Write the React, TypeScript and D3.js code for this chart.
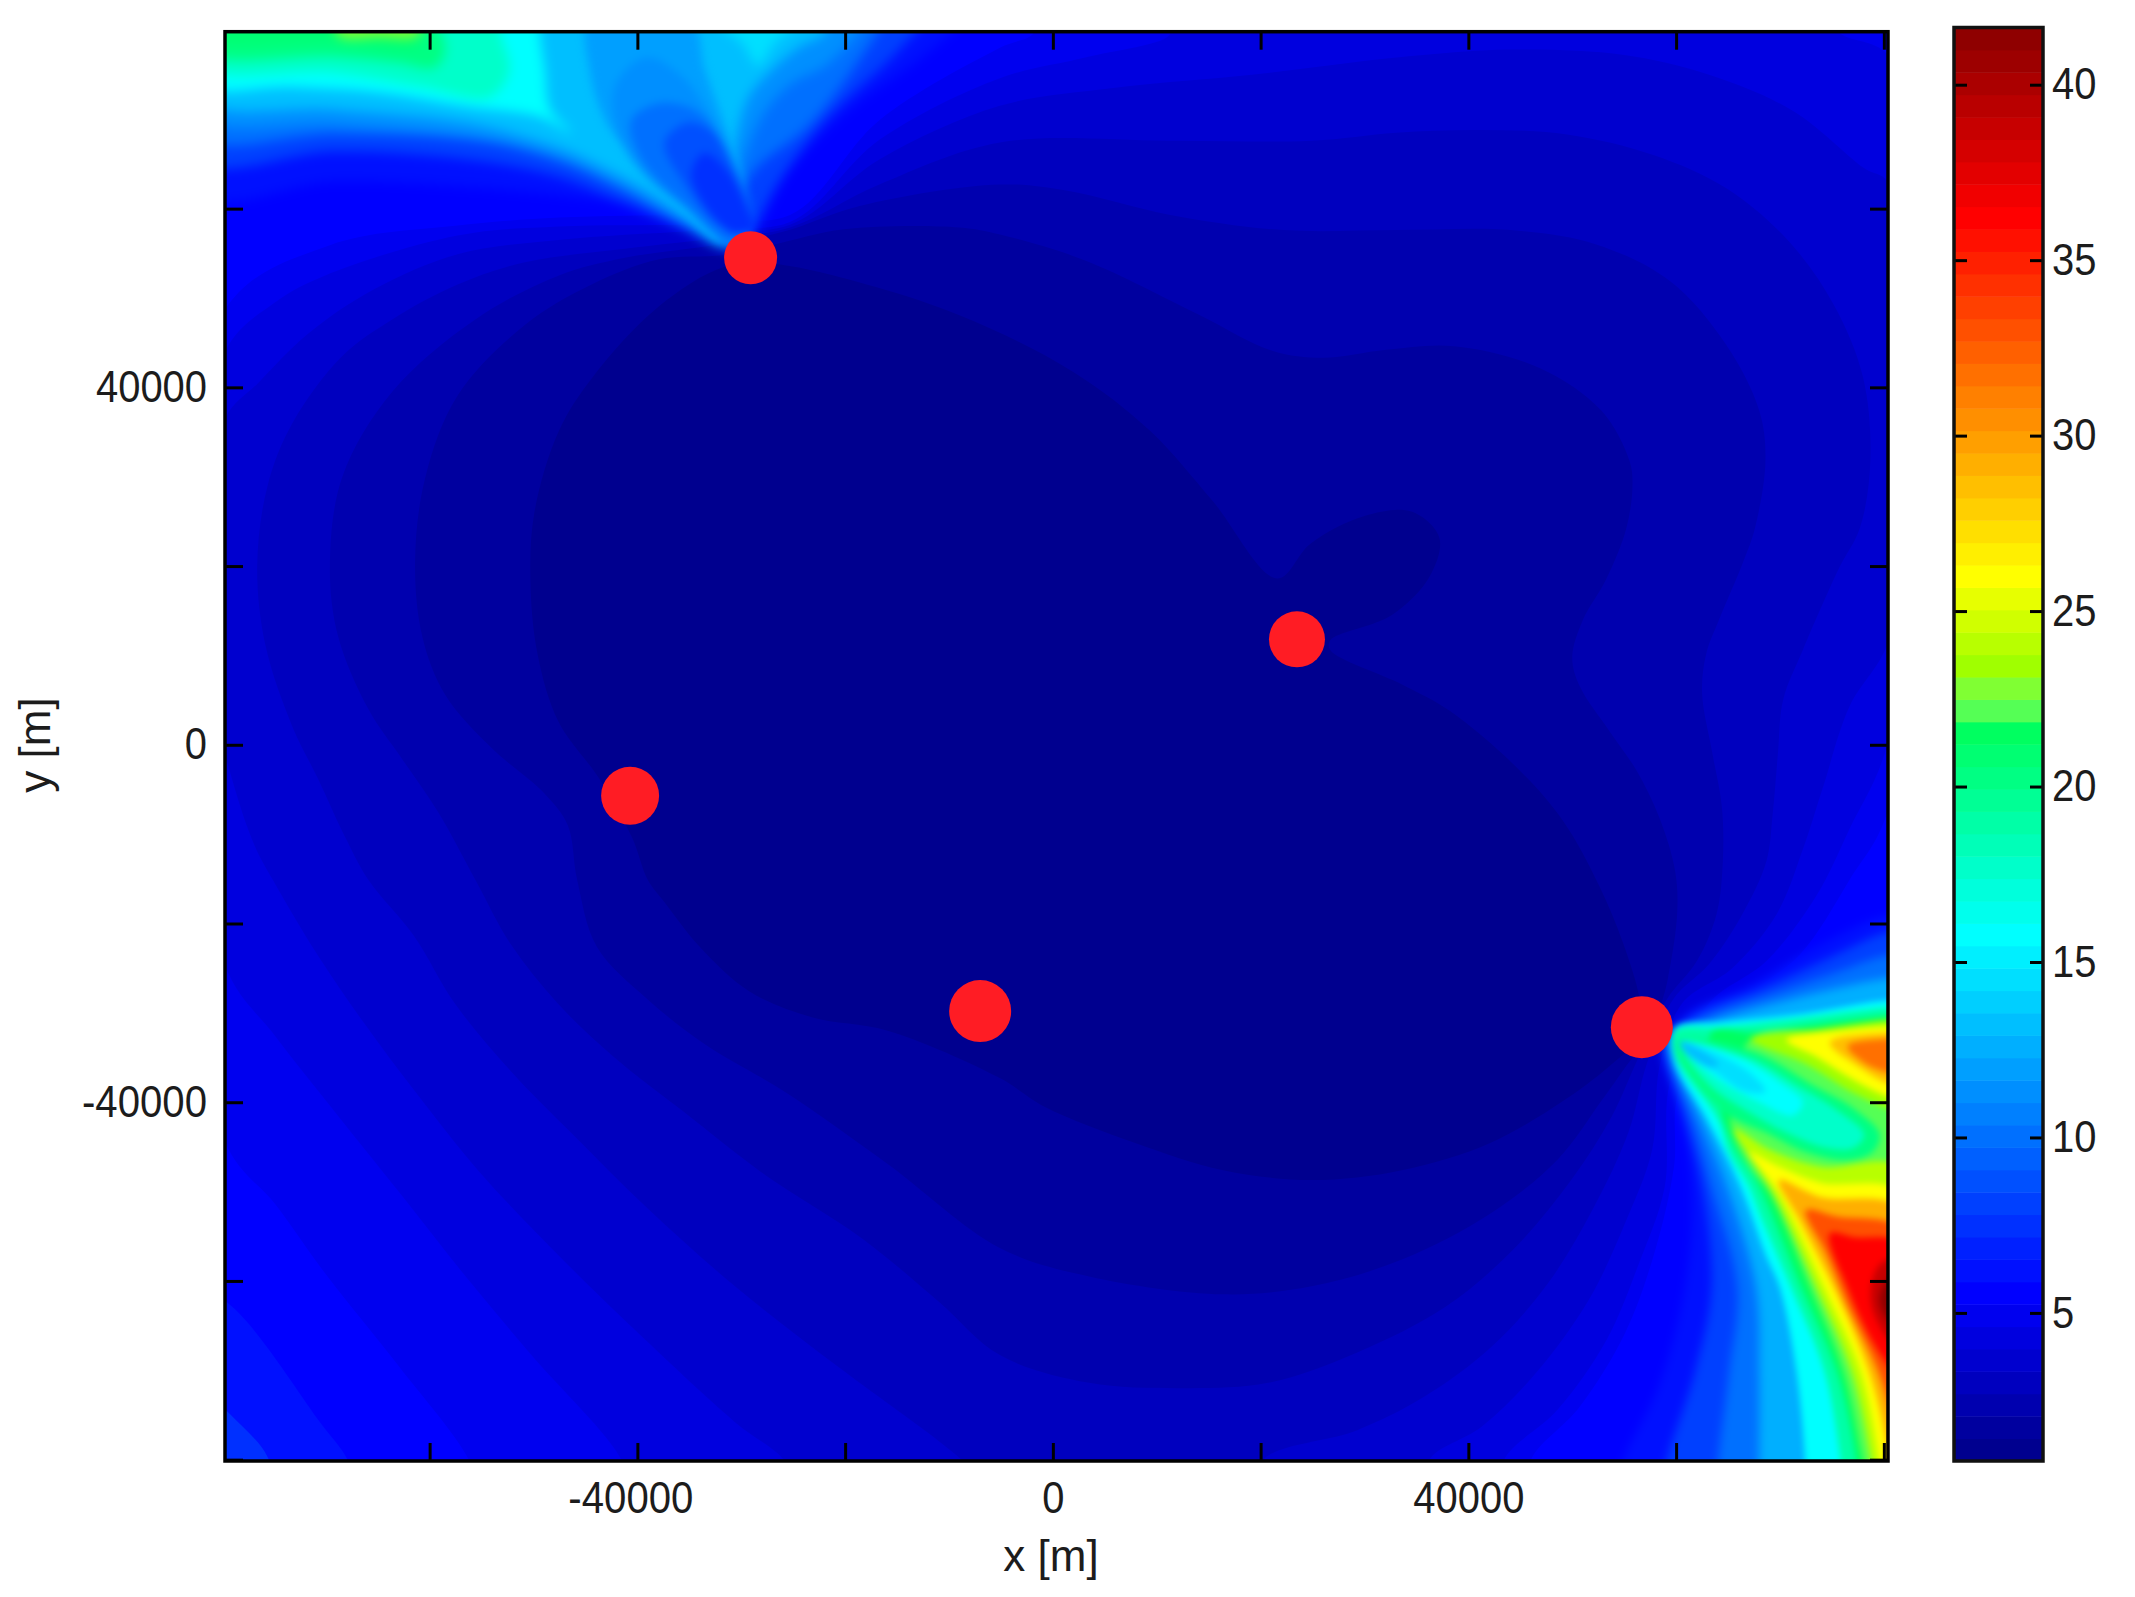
import * as d3 from "d3";
import { useEffect, useRef } from "react";

type Pt = [number, number];

// contour rings, [x, y] in km
const contour7: Pt[] = [[-34.7,59.3],[-47.6,59.0],[-57.3,58.1],[-69.6,55.9],[-79.7,48.7],[-85.0,5.0],[-79.7,-44.4],[-74.8,-51.5],[-69.9,-59.4],[-63.0,-69.5],[-56.1,-80.3],[-55.2,-84.5],[46.0,-84.5],[46.0,-80.1],[50.7,-74.1],[55.1,-65.8],[58.0,-56.5],[59.8,-47.2],[60.3,-38.6],[66.1,-28.9],[71.9,-23.5],[76.7,-15.1],[80.4,-7.3],[85.4,49.8],[85.4,83.4],[-1.8,83.4],[-1.8,79.7],[-5.1,78.0],[-16.7,69.9],[-25.3,59.3]];
const contour6: Pt[] = [[-34.7,58.2],[-47.6,58.0],[-57.3,57.0],[-70.1,52.5],[-74.9,49.5],[-79.7,44.0],[-84.0,10.6],[-79.7,-24.7],[-74.8,-32.7],[-68.9,-41.4],[-62.5,-50.7],[-56.6,-59.4],[-50.2,-68.3],[-41.4,-80.3],[-40.7,-84.5],[43.4,-84.5],[43.4,-80.1],[48.6,-74.4],[53.3,-66.6],[56.3,-58.4],[58.9,-49.5],[59.4,-37.8],[63.2,-28.9],[68.7,-24.2],[73.5,-16.9],[76.7,-9.4],[80.3,-0.1],[84.4,38.6],[80.6,76.9],[75.7,79.7],[74.8,82.2],[9.3,82.2],[11.3,79.6],[3.1,76.9],[-5.1,74.6],[-16.7,67.7],[-25.3,58.5]];
const contour5: Pt[] = [[-34.7,57.5],[-47.6,56.5],[-57.3,54.9],[-65.3,51.0],[-71.7,46.0],[-76.5,40.5],[-79.7,36.5],[-83.1,16.2],[-79.0,-3.9],[-76.8,-11.4],[-75.1,-15.1],[-70.8,-23.5],[-66.4,-31.0],[-61.0,-39.4],[-55.2,-47.8],[-47.7,-57.0],[-40.4,-65.3],[-30.6,-75.8],[-25.7,-80.3],[-24.4,-84.5],[36.2,-84.5],[36.2,-80.1],[41.3,-76.3],[46.5,-70.3],[51.6,-62.1],[55.1,-53.5],[57.7,-45.3],[58.4,-36.0],[60.6,-28.9],[65.4,-25.0],[69.7,-18.9],[72.2,-11.7],[74.1,-4.9],[76.7,4.3],[80.3,11.1],[83.4,27.4],[80.6,62.7],[78.0,64.6],[71.3,70.9],[63.1,75.0],[55.0,77.2],[44.1,77.8],[33.1,76.9],[19.4,75.0],[5.8,73.5],[-5.1,71.5],[-16.7,65.5],[-25.3,58.2]];
const contour4: Pt[] = [[-32.2,56.7],[-41.2,55.5],[-50.8,54.0],[-57.3,51.5],[-63.6,47.6],[-68.4,43.5],[-73.2,36.0],[-75.6,29.0],[-76.6,20.0],[-75.8,11.1],[-73.2,2.0],[-70.7,-3.9],[-68.1,-10.4],[-65.9,-15.1],[-61.5,-21.4],[-57.6,-28.9],[-52.2,-36.5],[-46.3,-43.5],[-39.0,-51.9],[-30.6,-60.6],[-20.8,-69.5],[-11.0,-77.9],[-8.5,-80.3],[-5.1,-84.5],[20.2,-84.5],[20.2,-80.1],[29.3,-76.7],[35.7,-73.0],[42.2,-67.4],[47.7,-60.2],[52.1,-51.7],[55.4,-43.4],[57.2,-35.6],[59.7,-28.5],[63.2,-24.5],[66.4,-18.9],[68.7,-13.0],[69.3,-7.7],[69.8,-1.0],[70.3,5.0],[72.2,10.6],[75.7,19.8],[77.7,24.3],[78.7,31.8],[78.0,41.1],[75.2,49.2],[70.8,56.4],[64.8,62.3],[57.8,66.0],[49.5,68.3],[41.3,68.8],[33.1,68.5],[24.9,67.6],[11.3,67.6],[-5.1,67.4],[-16.7,62.7],[-25.3,57.9]];
const contour3: Pt[] = [[-32.2,56.0],[-41.2,54.5],[-47.6,52.5],[-55.6,47.6],[-63.6,39.5],[-68.4,30.0],[-69.6,20.0],[-68.8,12.1],[-65.9,4.0],[-62.7,-1.5],[-59.2,-7.5],[-55.6,-15.1],[-52.2,-22.3],[-47.7,-28.9],[-42.4,-34.8],[-35.5,-41.1],[-28.1,-47.8],[-18.3,-55.3],[-11.0,-62.3],[-5.1,-68.3],[3.5,-71.4],[12.1,-72.0],[20.7,-71.4],[29.3,-68.0],[37.8,-62.9],[44.3,-56.5],[49.9,-48.7],[53.8,-41.6],[56.3,-35.2],[59.1,-28.5],[62.0,-24.2],[63.9,-18.9],[64.5,-13.0],[64.4,-6.9],[63.5,-1.0],[62.5,5.8],[62.9,10.2],[64.2,14.2],[66.4,20.3],[67.6,24.3],[68.6,31.8],[68.0,37.4],[64.8,44.8],[59.4,51.9],[52.3,56.0],[44.1,57.6],[33.1,57.6],[22.2,57.6],[11.3,59.3],[1.4,62.0],[-5.1,62.7],[-18.6,60.3],[-26.0,57.4]];
const contour2: Pt[] = [[-26.8,56.0],[-20.1,57.7],[-9.0,57.9],[-5.1,57.1],[3.1,54.2],[14.1,48.1],[21.1,44.1],[26.0,43.3],[32.1,44.2],[38.6,44.6],[46.8,42.2],[52.8,37.4],[55.5,31.8],[55.8,29.0],[55.2,24.2],[53.3,18.6],[51.0,13.9],[50.0,9.8],[50.7,6.6],[53.6,1.5],[56.2,-2.9],[58.4,-8.2],[59.9,-14.1],[60.1,-18.9],[59.2,-26.2],[58.6,-28.9],[57.5,-33.0],[55.9,-34.9],[52.9,-39.7],[48.6,-46.4],[42.2,-52.4],[33.6,-57.6],[24.9,-60.6],[16.4,-61.5],[3.5,-59.5],[-5.1,-56.3],[-15.9,-46.9],[-25.7,-38.9],[-33.5,-33.5],[-39.0,-28.5],[-43.9,-22.6],[-45.8,-15.1],[-46.7,-9.0],[-48.9,-5.5],[-54.0,-0.4],[-58.5,5.6],[-60.7,12.1],[-61.4,20.5],[-60.4,30.0],[-57.3,39.1],[-50.8,47.0],[-44.4,51.5],[-38.0,54.3],[-31.6,54.8]];
const contour1: Pt[] = [[-26.8,53.8],[-16.4,51.0],[-7.6,47.4],[2.0,41.7],[9.3,35.2],[15.3,27.4],[21.6,18.6],[24.8,22.5],[30.0,25.6],[34.5,26.1],[37.2,23.2],[36.3,18.9],[32.6,14.5],[26.7,11.7],[26.7,10.6],[33.7,6.7],[38.2,3.8],[44.7,-2.6],[49.1,-8.5],[52.6,-15.8],[54.9,-22.2],[56.5,-28.5],[56.7,-33.0],[55.1,-34.5],[50.7,-38.6],[42.2,-44.5],[33.6,-47.6],[24.9,-48.7],[16.4,-47.6],[7.8,-44.5],[-0.8,-40.5],[-5.1,-37.3],[-15.9,-32.0],[-23.2,-30.5],[-29.2,-27.6],[-34.0,-22.6],[-37.4,-17.6],[-39.0,-15.1],[-40.5,-10.4],[-43.6,-3.9],[-47.6,2.6],[-49.6,10.1],[-50.3,18.5],[-49.9,26.1],[-47.6,35.0],[-44.4,41.0],[-38.0,49.0],[-31.6,53.5]];
const cornerOuter: Pt[] = [[-84,-59.6],[-79.0,-62.9],[-70.5,-75.9],[-67.9,-80.0],[-66.7,-84.5],[-84,-84.5]];
const cornerInner: Pt[] = [[-84,-69.7],[-79.4,-74.7],[-75.6,-79.7],[-74.9,-84.5],[-84,-84.5]];

// plume above the top station
const plumeTop65: Pt[] = [[-82,61.5],[-69.2,63.0],[-56.3,62.4],[-47.5,61.5],[-39.8,60.2],[-34.0,57.4],[-30.6,55.4],[-28.7,57.1],[-25.3,64.3],[-19.5,71.1],[-12.8,76.7],[-8.5,81.1],[-8,82],[-82,82]];
const plumeTop82: Pt[] = [[-82,65.3],[-69.2,66.4],[-56.3,65.5],[-47.7,63.6],[-41.3,60.6],[-35.9,57.9],[-30.6,55.4],[-29.0,57.4],[-26.7,62.4],[-21.9,69.9],[-15.7,76.7],[-12.3,81.1],[-12,82],[-82,82]];
const plumeTop100: Pt[] = [[-82,68.0],[-69.2,68.3],[-56.3,67.7],[-47.7,66.0],[-41.3,63.2],[-36.9,60.4],[-34.0,58.2],[-30.6,55.4],[-30.5,60],[-28.7,64.3],[-23.4,69.4],[-18.6,76.7],[-16.2,81.1],[-16,82],[-82,82]];
const plumeTop115: Pt[] = [[-82,70.3],[-69.2,69.4],[-56.3,68.0],[-47.7,65.5],[-41.3,62.1],[-35.9,58.5],[-31.6,55.7],[-31,60],[-28.2,69.9],[-25.3,73.9],[-21.9,76],[-18.6,80.0],[-18,82],[-82,82]];
const plumeTop130: Pt[] = [[-82,72.2],[-69.2,71.1],[-56.3,69.6],[-47.7,66.9],[-43.4,64.7],[-39.2,62.1],[-34.8,58.7],[-31.9,56.2],[-31.5,60],[-29.5,72],[-27.5,75],[-24.5,78],[-21.9,79.7],[-22,82],[-82,82]];
const ridgeTop145: Pt[] = [[-32.5,81.1],[-24.4,81.1],[-26.8,78.5],[-28.4,76],[-29.9,78.5]];
const plumeTop157: Pt[] = [[-82,73.9],[-73.4,73.6],[-64.9,73.0],[-56.3,71.4],[-49.5,70.3],[-46.3,68.5],[-48.4,71.1],[-48.9,75.5],[-49.4,79.7],[-49.4,82],[-82,82]];
const plumeTop180: Pt[] = [[-82,75.9],[-69.2,75.2],[-60.6,73.6],[-54.2,72.5],[-52.3,75.5],[-53.2,79.7],[-53.2,82],[-82,82]];
const plumeTop200: Pt[] = [[-82,77.5],[-69.2,77.0],[-62.9,76.3],[-59.5,75.8],[-58.5,77.8],[-60.0,81.1],[-82,82]];
const plumeTop210: Pt[] = [[-82,79],[-69.2,78.7],[-62.9,78.0],[-61.0,78.3],[-62.5,81.1],[-82,82]];
const plumeTop230: Pt[] = [[-68.8,79.4],[-64.8,79.2],[-61.1,79.4],[-61.1,83],[-68.8,83]];
const valleyTop120: Pt[] = [[-31.0,55.9],[-35.9,60.4],[-39.8,64.9],[-43.1,69.9],[-44.6,75.5],[-44.6,81.1],[-34.9,81.1],[-33.5,75.5],[-31.6,69.4],[-29.6,62.7],[-29.0,57.6]];
const valleyTop110: Pt[] = [[-31.0,55.9],[-34.9,59.5],[-39.2,63.6],[-41.7,68.0],[-42.2,73.6],[-39.2,76.9],[-35.9,75.0],[-33.0,70.5],[-30.6,64.9],[-29.4,60.4],[-29.0,57.4]];
const valleyTop100: Pt[] = [[-31.0,56.2],[-35.2,60.2],[-39.6,65.5],[-40.6,69.9],[-37.8,71.8],[-34.0,70.7],[-31.0,65.5],[-29.1,60.2]];
const valleyTop88: Pt[] = [[-31.9,58.0],[-35.7,63.2],[-37.4,67.4],[-35.2,69.6],[-32.7,68.5],[-30.5,63.6],[-28.9,58.0]];
const valleyTop75: Pt[] = [[-31.0,57.3],[-34.8,63.6],[-33.6,66.2],[-31.4,64.3],[-29.5,60.2],[-28.9,57.6]];

// fan below-right of the last station
const fan65: Pt[] = [[80.6,-19.0],[73.8,-22.4],[67.1,-26.9],[61.3,-29.9],[58.9,-33.0],[58.6,-34.7],[59.7,-38.8],[61.0,-44.1],[61.5,-53.2],[60.5,-62.7],[58.2,-72.1],[55.0,-79.7],[54.0,-83.5],[84,-84],[84,-19]];
const fan80: Pt[] = [[80.6,-20.9],[74.8,-23.8],[68.0,-27.4],[62.3,-29.9],[58.9,-33.0],[59.0,-35.0],[60.8,-41.9],[62.5,-49.4],[63.4,-60.8],[61.8,-70.2],[59.2,-79.7],[58.6,-83.5],[84,-84],[84,-21]];
const fan100: Pt[] = [[80.6,-23.5],[74.8,-25.7],[69.0,-28.0],[63.7,-30.1],[59.2,-33.0],[59.2,-35.0],[61.5,-41.9],[63.4,-49.4],[65.9,-60.8],[65.1,-70.2],[64.1,-79.7],[63.9,-83.5],[84,-84],[84,-23.5]];
const fan125: Pt[] = [[80.6,-26.1],[74.8,-27.4],[69.0,-29.1],[63.7,-30.8],[59.4,-32.5],[59.5,-35.0],[62.3,-41.9],[64.9,-49.4],[67.7,-60.8],[68.0,-70.2],[68.0,-79.7],[68.0,-83.5],[84,-84],[84,-26]];
const fan157: Pt[] = [[80.4,-28.6],[72.2,-30.1],[64.1,-31.1],[59.9,-31.7],[59.9,-35.4],[63.0,-41.9],[66.2,-49.4],[68.6,-57.0],[70.0,-60.8],[71.6,-70.2],[72.4,-79.7],[72.5,-83.5],[84,-84],[84,-28.6]];
const fan190: Pt[] = [[80.4,-29.4],[70.6,-30.8],[64.1,-31.6],[59.9,-32.0],[60.0,-35.0],[64.0,-41.9],[65.1,-45.6],[67.0,-49.4],[68.3,-53.2],[71.1,-60.8],[74.3,-70.2],[75.8,-79.7],[76.1,-83.5],[84,-84],[84,-29.4]];
const fan215: Pt[] = [[80.4,-30.3],[72.2,-31.5],[67.4,-32.2],[63.4,-32.2],[65.1,-43.7],[68.0,-49.4],[72.1,-60.8],[75.5,-70.2],[77.3,-79.7],[77.6,-83.5],[84,-84],[84,-30]];
const fan223: Pt[] = [[67.2,-32.9],[73.9,-31.8],[80.4,-30.8],[82,-30.7],[82,-83.5],[78.7,-83.5],[77.9,-79.7],[76.1,-70.2],[72.9,-60.8],[69,-50.2],[67,-47.1],[65.2,-42]];
const wedgeUpper235: Pt[] = [[67.2,-32.9],[73.9,-31.8],[80.4,-30.8],[82,-30.8],[82,-41.1],[80.4,-40.7],[77.1,-39.0],[72.6,-35.8]];
const wedgeUpper257: Pt[] = [[70.6,-33.0],[75.5,-32.0],[80.4,-31.5],[82,-31.5],[82,-39.8],[80.4,-39.4],[77.1,-37.5],[73.5,-34.9]];
const wedgeUpper285: Pt[] = [[74.8,-33.3],[80.4,-32.2],[82,-32.2],[82,-38.1],[80.4,-37.9],[77.8,-36.2]];
const wedgeUpper315: Pt[] = [[76.5,-33.7],[80.4,-32.9],[82,-32.9],[82,-37.1],[80.4,-36.7],[78.1,-35.6]];
const wedgeLower238: Pt[] = [[65.6,-43.0],[69.0,-45.3],[73.9,-47.2],[82,-47.5],[82,-83.5],[79.1,-83.5],[78.7,-79.7],[76.9,-70.2],[73.5,-60.8],[69.3,-50.2],[67.2,-46.4]];
const wedgeLower257: Pt[] = [[67.0,-45.6],[69.9,-47.2],[73.9,-49.0],[82,-50.4],[82,-83.5],[79.9,-83.5],[79.5,-79.7],[77.8,-70.2],[74.3,-60.8],[69.9,-50.2],[68.2,-47.5]];
const wedgeLower290: Pt[] = [[69.9,-48.7],[73.9,-50.6],[82,-52.2],[82,-83.5],[80.7,-83.5],[80.2,-77.8],[78.6,-70.2],[75.2,-60.8],[71.9,-53.2]];
const wedgeLower330: Pt[] = [[72.5,-52.1],[75.5,-52.8],[82,-54.5],[82,-79.7],[81,-75.9],[79.5,-70.2],[76.5,-62.7],[74.5,-57.0]];
const wedgeLower360: Pt[] = [[74.8,-54.7],[77.1,-55.1],[82,-56.0],[82,-72.1],[80.4,-69.5],[78.4,-65.7],[76.5,-60.8]];
const wedgeLower385: Pt[] = [[80.0,-57.8],[82,-57.5],[82,-68.5],[80.2,-66.2],[78.8,-62.6],[79.0,-59.5]];
const wedgeLower410: Pt[] = [[80.6,-59.5],[82,-59],[82,-66],[80.4,-64.4],[79.6,-62]];
const tear205: Pt[] = [[60.2,-33.0],[67.4,-34.3],[73.2,-38.1],[77.1,-40.7],[79.6,-43.6],[78.9,-45.6],[76.5,-46.5],[72.5,-45.6],[68.6,-43.4],[65.1,-41.5],[62.1,-38.1],[60.0,-34.5]];
const tear180: Pt[] = [[60.4,-33.2],[67.0,-35.0],[71.6,-38.1],[75.5,-40.9],[78.1,-43.6],[77.1,-45.1],[74.5,-45.1],[70.6,-43.4],[67.0,-41.1],[63.4,-38.3],[60.7,-34.5]];
const tear157: Pt[] = [[60.4,-33.2],[66.0,-35.0],[69.9,-37.7],[72.2,-40.0],[71.2,-41.5],[68.0,-40.0],[64.1,-37.5],[61.0,-34.5]];
const tear140: Pt[] = [[60.4,-33.2],[64.1,-34.7],[67.3,-36.9],[68.6,-38.8],[66.7,-38.8],[63.8,-36.7],[60.8,-34.3]];
const tear125: Pt[] = [[60.4,-33.3],[62.5,-34.3],[64.1,-35.8],[63.1,-36.0],[60.8,-34.3]];

const stationX = [-29.1, 23.5, -40.7, -7.0, 56.7];
const stationY = [54.5, 11.8, -5.7, -29.8, -31.6];
const stationRadius = [26.5, 28, 29, 31, 31];

const xTicks = [-60000, -40000, -20000, 0, 20000, 40000, 60000, 80000];
const yTicks = [-80000, -60000, -40000, -20000, 0, 20000, 40000, 60000];
const labelledTicks = [-40000, 0, 40000];
const barTicks = [5, 10, 15, 20, 25, 30, 35, 40];

const colorIndexStops = [0, 7, 23, 32, 33, 34, 35, 39, 55, 63];
const colorStops = ["#00008f", "#0000ff", "#00ffff", "#00ff60", "#55ff55", "#80ff33", "#a0ff00", "#ffff00", "#ff0000", "#8f0000"];
const valueMin = 0.78;
const valueMax = 41.63;
const levels = 64;

const baseBands: [number, Pt[]][] = [
  [6.3, cornerOuter], [7.2, cornerInner],
  [4.9, contour7], [4.3, contour6], [3.7, contour5], [3.0, contour4], [2.4, contour3], [1.7, contour2], [1.1, contour1],
];
const topPlumeBands: [number, Pt[]][] = [
  [6.5, plumeTop65], [8.2, plumeTop82], [10, plumeTop100], [11.5, plumeTop115], [13, plumeTop130], [14.5, ridgeTop145],
  [15.8, plumeTop157], [18, plumeTop180], [20, plumeTop200], [21, plumeTop210], [23, plumeTop230],
];
const topValleyBands: [number, Pt[]][] = [
  [12, valleyTop120], [11, valleyTop110], [10, valleyTop100], [8.8, valleyTop88], [7.5, valleyTop75],
];
const fanBroadBands: [number, Pt[]][] = [
  [6.5, fan65], [8, fan80], [10, fan100], [12.5, fan125],
];
const fanFineBands: [number, Pt[]][] = [
  [15.8, fan157], [19, fan190], [21.5, fan215], [22.3, fan223],
  [23.5, wedgeUpper235], [25.7, wedgeUpper257], [28.5, wedgeUpper285], [31.5, wedgeUpper315],
  [23.8, wedgeLower238], [25.7, wedgeLower257], [29, wedgeLower290], [33, wedgeLower330], [36, wedgeLower360], [38.5, wedgeLower385], [41, wedgeLower410],
  [20.5, tear205], [18, tear180], [16, tear157], [14.5, tear140], [13, tear125],
];
const softGroups: [number, [number, Pt[]][]][] = [
  [6, topPlumeBands], [4, topValleyBands], [5, fanBroadBands], [3, fanFineBands],
];

export default function App() {
  const ref = useRef<SVGSVGElement>(null);

  useEffect(() => {
    const svg = d3.select(ref.current);
    svg.selectAll("*").remove();

    const x = d3.scaleLinear().domain([-79700, 80400]).range([225, 1888]);
    const y = d3.scaleLinear().domain([79800, -80150]).range([31.7, 1461]);
    const barY = d3.scaleLinear().domain([valueMin, valueMax]).range([1461, 27.5]);

    const colorAt = d3.scaleLinear<string>().domain(colorIndexStops).range(colorStops);
    const step = (valueMax - valueMin) / levels;
    const colorOf = (v: number) => colorAt(Math.max(0, Math.min(levels - 1, Math.floor((v - valueMin) / step))));

    const ring = d3
      .line<Pt>()
      .x((d) => x(d[0] * 1000))
      .y((d) => y(d[1] * 1000))
      .curve(d3.curveCatmullRomClosed.alpha(0.5));

    const defs = svg.append("defs");
    defs
      .append("clipPath")
      .attr("id", "plot-clip")
      .append("rect")
      .attr("x", x.range()[0])
      .attr("y", y.range()[0])
      .attr("width", x.range()[1] - x.range()[0])
      .attr("height", y.range()[1] - y.range()[0]);

    softGroups.forEach(([sigma], i) => {
      defs
        .append("filter")
        .attr("id", `soft-${i}`)
        .attr("x", "-20%")
        .attr("y", "-20%")
        .attr("width", "140%")
        .attr("height", "140%")
        .attr("color-interpolation-filters", "sRGB")
        .append("feGaussianBlur")
        .attr("stdDeviation", sigma);
    });

    svg.append("rect").attr("width", 2135).attr("height", 1597).attr("fill", "#fff");

    const plot = svg.append("g").attr("clip-path", "url(#plot-clip)");
    plot
      .append("rect")
      .attr("x", x.range()[0])
      .attr("y", y.range()[0])
      .attr("width", x.range()[1] - x.range()[0])
      .attr("height", y.range()[1] - y.range()[0])
      .attr("fill", colorOf(5.6));

    plot
      .append("g")
      .selectAll("path")
      .data(baseBands)
      .join("path")
      .attr("d", (d) => ring(d[1]))
      .attr("fill", (d) => colorOf(d[0]));

    softGroups.forEach(([, bands], i) => {
      plot
        .append("g")
        .attr("filter", `url(#soft-${i})`)
        .selectAll("path")
        .data(bands)
        .join("path")
        .attr("d", (d) => ring(d[1]))
        .attr("fill", (d) => colorOf(d[0]));
    });

    plot
      .append("g")
      .selectAll("circle")
      .data(stationX)
      .join("circle")
      .attr("cx", (d) => x(d * 1000))
      .attr("cy", (_, i) => y(stationY[i] * 1000))
      .attr("r", (_, i) => stationRadius[i])
      .attr("fill", "#ff1c24");

    const fontStyle = (g: d3.Selection<SVGGElement, unknown, null, undefined>) => {
      g.select(".domain").remove();
      g.selectAll("line").attr("stroke", "#000").attr("stroke-width", 3);
      g.selectAll<SVGTextElement, number>("text")
        .attr("font-family", "'Liberation Sans', Arial, sans-serif")
        .attr("font-size", 44)
        .attr("fill", "#1c1c1c")
        .attr("lengthAdjust", "spacingAndGlyphs")
        .attr("textLength", function () {
          const t = this.textContent || "";
          if (!t) return null;
          return t.replace("-", "").length * 22.2 + (t.startsWith("-") ? 14 : 0);
        });
    };

    const label = (d: d3.NumberValue) => (labelledTicks.includes(+d) ? String(+d) : "");
    const inner = 18;

    const bottomAxis = svg
      .append("g")
      .attr("transform", `translate(0,${y.range()[1]})`)
      .call(d3.axisBottom(x).tickValues(xTicks).tickSize(-inner).tickPadding(21).tickFormat(label))
      .call(fontStyle);
    // the minus sign pulls the first label a little to the left
    bottomAxis
      .selectAll<SVGTextElement, number>("text")
      .filter((d) => d < 0)
      .attr("dx", -7);
    svg
      .append("g")
      .attr("transform", `translate(0,${y.range()[0]})`)
      .call(d3.axisTop(x).tickValues(xTicks).tickSize(-inner).tickFormat(() => ""))
      .call(fontStyle);
    svg
      .append("g")
      .attr("transform", `translate(${x.range()[0]},0)`)
      .call(d3.axisLeft(y).tickValues(yTicks).tickSize(-inner).tickPadding(18).tickFormat(label))
      .call(fontStyle);
    svg
      .append("g")
      .attr("transform", `translate(${x.range()[1]},0)`)
      .call(d3.axisRight(y).tickValues(yTicks).tickSize(-inner).tickFormat(() => ""))
      .call(fontStyle);

    svg
      .append("rect")
      .attr("x", x.range()[0])
      .attr("y", y.range()[0])
      .attr("width", x.range()[1] - x.range()[0])
      .attr("height", y.range()[1] - y.range()[0])
      .attr("fill", "none")
      .attr("stroke", "#000")
      .attr("stroke-width", 3.5);

    // colour bar
    const barLeft = 1954;
    const barRight = 2043;
    svg
      .append("g")
      .selectAll("rect")
      .data(d3.range(levels))
      .join("rect")
      .attr("x", barLeft)
      .attr("width", barRight - barLeft)
      .attr("y", (i) => barY(valueMin + (i + 1) * step))
      .attr("height", (i) => barY(valueMin + i * step) - barY(valueMin + (i + 1) * step) + 0.5)
      .attr("fill", (i) => colorAt(i));

    svg
      .append("g")
      .attr("transform", `translate(${barRight},0)`)
      .call(d3.axisRight(barY).tickValues(barTicks).tickSize(-13).tickPadding(9).tickFormat((d) => String(d)))
      .call(fontStyle);
    svg
      .append("g")
      .attr("transform", `translate(${barLeft},0)`)
      .call(d3.axisLeft(barY).tickValues(barTicks).tickSize(-13).tickFormat(() => ""))
      .call(fontStyle);
    svg
      .append("rect")
      .attr("x", barLeft)
      .attr("y", barY.range()[1])
      .attr("width", barRight - barLeft)
      .attr("height", barY.range()[0] - barY.range()[1])
      .attr("fill", "none")
      .attr("stroke", "#111")
      .attr("stroke-width", 3.5);

    const titleFont = "'Liberation Sans', Arial, sans-serif";
    svg
      .append("text")
      .attr("x", 1051)
      .attr("y", 1571)
      .attr("text-anchor", "middle")
      .attr("font-family", titleFont)
      .attr("font-size", 44)
      .attr("fill", "#1c1c1c")
      .text("x [m]");
    svg
      .append("text")
      .attr("transform", "translate(50,745) rotate(-90)")
      .attr("text-anchor", "middle")
      .attr("font-family", titleFont)
      .attr("font-size", 44)
      .attr("fill", "#1c1c1c")
      .text("y [m]");
  }, []);

  return <svg ref={ref} width={2135} height={1597} style={{ position: "absolute", left: 0, top: 0, display: "block" }} />;
}
